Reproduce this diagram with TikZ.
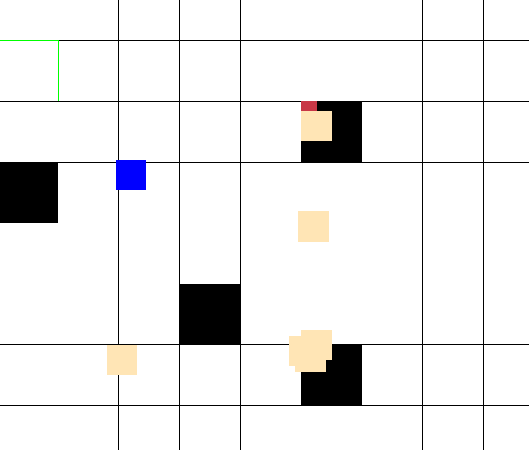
\documentclass[tikz,border=0pt]{standalone}
\begin{document}
\begin{tikzpicture}[x=1pt,y=-1pt,
  gridline/.style={draw=black,line width=1pt},
  greenline/.style={draw={rgb,255:red,0;green,255;blue,0},line width=1pt},
  wall/.style={fill=black},
  agent/.style={fill={rgb,255:red,0;green,0;blue,255}},
  goal/.style={fill={rgb,255:red,200;green,55;blue,70}},
  tan/.style={fill={rgb,255:red,255;green,229;blue,181}}]
\useasboundingbox (0,0) rectangle (529,450);
\fill[white] (0,0) rectangle (529,450);
% grid lines
\foreach \x in {118.3,179.3,240.3,422.3,483.3}
  \draw[gridline] (\x,0) -- (\x,450);
\foreach \y in {40.5,101.3,162.3,344.3,405.3}
  \draw[gridline] (0,\y) -- (529,\y);
% green border
\draw[greenline] (0,40.5) -- (58.7,40.5) -- (58.7,101.3);
% walls
\fill[wall] (0,162.3) rectangle (58.3,222.7);
\fill[wall] (301,101.3) rectangle (361.7,162.3);
\fill[wall] (179.3,284) rectangle (240.3,344.3);
\fill[wall] (301,344.3) rectangle (361.7,405.3);
% agent
\fill[agent] (116,160) rectangle (146,190);
% red patch
\fill[goal] (301,101.3) rectangle (317,111);
% tan squares
\fill[tan] (301,111) rectangle (332,141);
\fill[tan] (298,211) rectangle (329,242);
\fill[tan] (107,345) rectangle (137,375);
\fill[tan] (301,330) rectangle (332,360);
\fill[tan] (289,336) rectangle (319,366);
\fill[tan] (295,342) rectangle (326,372);
\end{tikzpicture}
\end{document}
